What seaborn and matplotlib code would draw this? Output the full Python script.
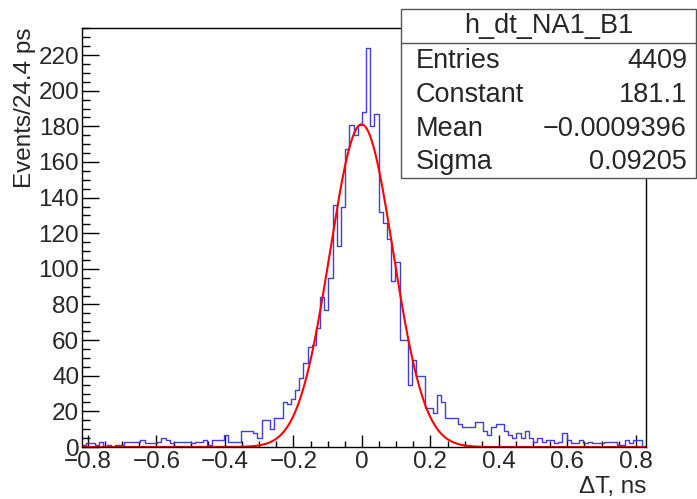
import numpy as np
import pandas as pd
import matplotlib
matplotlib.use("Agg")
import matplotlib.pyplot as plt
import matplotlib.patches as mpatches
from matplotlib.lines import Line2D
from matplotlib.ticker import MultipleLocator
import seaborn as sns

# ---------------- data ----------------
bin_width = 0.0122          # ns
first_bin = -67             # index of the first bin edge (in bin widths)
counts = [
    1, 2, 2, 1, 3, 0, 1, 0, 1, 1,          # k = -67 .. -58
    3, 3, 3, 3, 4, 2, 2, 2, 3, 5,          # -57 .. -48
    4, 2, 3, 3, 3, 3, 2, 3, 3, 4,          # -47 .. -38
    1, 4, 4, 4, 7, 3, 3, 3, 9, 9,          # -37 .. -28
    9, 8, 5, 15, 15, 10, 16, 16, 25, 24,   # -27 .. -18
    27, 32, 39, 47, 56, 57, 67, 84, 77, 95,  # -17 .. -8
    136, 113, 135, 167, 181, 175, 181,     # -7 .. -1
    188, 224, 180, 187, 132, 126, 117, 93, 104, 60,  # 0 .. 9
    60, 35, 49, 40, 40, 22, 22, 19, 29, 25,  # 10 .. 19
    16, 16, 16, 13, 11, 11, 11, 14, 14, 9,   # 20 .. 29
    7, 11, 13, 13, 9, 7, 5, 8, 5, 9,         # 30 .. 39
    5, 3, 5, 3, 4, 4, 2, 3, 8, 4,            # 40 .. 49
    2, 2, 4, 2, 3, 2, 2, 2, 3, 3,            # 50 .. 59
    3, 1, 1, 4, 2, 4, 4, 0,                  # 60 .. 67
]
fit_constant = 181.1
fit_mean = -0.0009396
fit_sigma = 0.09205
entries = 4409
hist_name = "h_dt_NA1_B1"
stat_labels = ["Entries", "Constant", "Mean", "Sigma"]
stat_values = ["4409", "181.1", "\u22120.0009396", "0.09205"]
x_label = "\u0394T, ns"
y_label = "Events/24.4 ps"

# ---------------- style ----------------
sns.set_style("white")
plt.rcParams["font.family"] = ["Liberation Sans", "DejaVu Sans"]

W, H = 697, 499
fig = plt.figure(figsize=(W / 100, H / 100), dpi=100)
ax = fig.add_axes([82 / W, 52 / H, 564 / W, 419 / H])

edges = [(i + first_bin) * bin_width for i in range(len(counts) + 1)]
centers = [0.5 * (edges[i] + edges[i + 1]) for i in range(len(counts))]
df = pd.DataFrame({"dt": centers, "n": counts})

sns.histplot(data=df, x="dt", weights="n", bins=edges, element="step",
             fill=False, color="#4040d0", linewidth=1.0, ax=ax)

xf = np.linspace(edges[0], edges[-1], 800)
yf = fit_constant * np.exp(-0.5 * ((xf - fit_mean) / fit_sigma) ** 2)
sns.lineplot(x=xf, y=yf, color="#ff0000", linewidth=1.5, ax=ax)

ax.set_xlim(edges[0], edges[-1])
ax.set_ylim(0, 1.05 * max(counts))
ax.set_xlabel("")
ax.set_ylabel("")

for sp in ax.spines.values():
    sp.set_color("black")
    sp.set_linewidth(1.0)
    sp.set_visible(True)

ax.xaxis.set_major_locator(MultipleLocator(0.2))
ax.xaxis.set_minor_locator(MultipleLocator(0.05))
ax.yaxis.set_major_locator(MultipleLocator(20))
ax.yaxis.set_minor_locator(MultipleLocator(5))
ax.tick_params(axis="x", which="major", direction="in", length=8.5, width=1,
               color="black", labelsize=17.5, pad=3, top=False, bottom=True)
ax.tick_params(axis="x", which="minor", direction="in", length=4.5, width=1,
               color="black", top=False, bottom=True)
ax.tick_params(axis="y", which="major", direction="in", length=12, width=1,
               color="black", labelsize=17.5, pad=2, right=False, left=True)
ax.tick_params(axis="y", which="minor", direction="in", length=6, width=1,
               color="black", right=False, left=True)
ax.xaxis.set_major_formatter(matplotlib.ticker.FuncFormatter(
    lambda v, p: ("0" if abs(v) < 1e-9 else f"{v:.1f}").replace("-", "\u2212")))

# axis titles (ROOT style: right/top aligned)
fig.text(646 / W, 1 - 487 / H, x_label, ha="right", va="center", fontsize=17.5)
fig.text(25 / W, 1 - 27 / H, y_label, ha="center", va="top", rotation=90,
         fontsize=17.5)

# ---------------- stats box ----------------
bx0, bx1, by0, by1, bsep = 401, 696, 9, 178, 43
rect = mpatches.Rectangle((bx0 / W, 1 - by1 / H), (bx1 - bx0) / W,
                          (by1 - by0) / H, transform=fig.transFigure,
                          facecolor="white", edgecolor="#555555", lw=1.0,
                          zorder=10)
fig.add_artist(rect)
fig.add_artist(Line2D([bx0 / W, bx1 / W], [1 - bsep / H, 1 - bsep / H],
                      transform=fig.transFigure, color="#555555", lw=1.0,
                      zorder=11))
fig.text((bx0 + bx1) / 2 / W, 1 - 26 / H, hist_name, ha="center",
         va="center", fontsize=19.5, zorder=12)
row_y = [61, 95, 129, 162]
for lab, val, yy in zip(stat_labels, stat_values, row_y):
    fig.text(416 / W, 1 - yy / H, lab, ha="left", va="center",
             fontsize=19.5, zorder=12)
    fig.text(687 / W, 1 - yy / H, val, ha="right", va="center",
             fontsize=19.5, zorder=12)

fig.savefig("out.png", dpi=100)
